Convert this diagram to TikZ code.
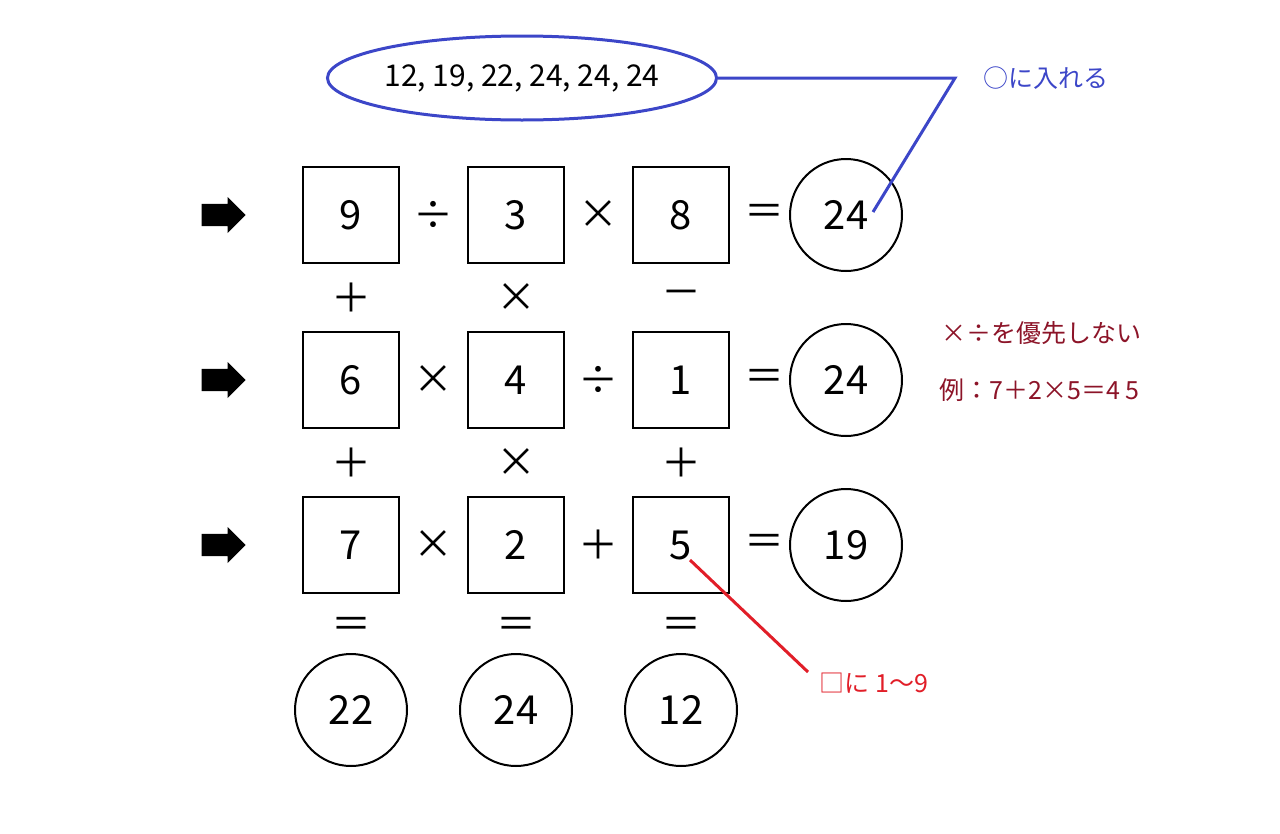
\documentclass[tikz,border=0pt]{standalone}
\usepackage{fontspec}
\setmainfont{Noto Sans CJK JP}
\usetikzlibrary{shapes.geometric,shapes.arrows}
\definecolor{lblue}{RGB}{60,70,200}
\definecolor{dred}{RGB}{140,20,40}
\definecolor{lred}{RGB}{225,30,40}
\begin{document}
\begin{tikzpicture}
    [x=1pt,y=-1pt,
     cell/.style={draw,line width=2pt,minimum size=96pt,inner sep=0pt,font=\fontsize{40}{40}\selectfont},
     res/.style={circle,draw,line width=2pt,minimum size=112pt,inner sep=0pt,font=\fontsize{40}{40}\selectfont},
     op/.style={inner sep=0pt,font=\fontsize{40}{40}\selectfont},
     note/.style={anchor=west,font=\fontsize{25}{25}\selectfont},
     pointer/.style={single arrow,fill=black,minimum width=36pt,minimum height=44pt,inner xsep=0pt,inner ysep=8pt,single arrow head extend=5pt}]

    \useasboundingbox (0,0) rectangle (1280,833);

    % row pointers:
    \node (a1) at (218,215) [pointer] {};
    \node (a2) at (218,380) [pointer] {};
    \node (a3) at (218,545) [pointer] {};

    % grid of cells:
    \node (c11) at (351,215) [cell] {9};
    \node (c12) at (516,215) [cell] {3};
    \node (c13) at (681,215) [cell] {8};
    \node (c21) at (351,380) [cell] {6};
    \node (c22) at (516,380) [cell] {4};
    \node (c23) at (681,380) [cell] {1};
    \node (c31) at (351,545) [cell] {7};
    \node (c32) at (516,545) [cell] {2};
    \node (c33) at (681,545) [cell] {5};

    % row operators:
    \node at (433,215) [op] {÷};
    \node at (598,215) [op] {×};
    \node at (764,215) [op] {＝};
    \node at (433,380) [op] {×};
    \node at (598,380) [op] {÷};
    \node at (764,380) [op] {＝};
    \node at (433,545) [op] {×};
    \node at (598,545) [op] {＋};
    \node at (764,545) [op] {＝};

    % column operators:
    \node at (351,298) [op] {＋};
    \node at (516,298) [op] {×};
    \node at (681,298) [op] {－};
    \node at (351,463) [op] {＋};
    \node at (516,463) [op] {×};
    \node at (681,463) [op] {＋};
    \node at (351,628) [op] {＝};
    \node at (516,628) [op] {＝};
    \node at (681,628) [op] {＝};

    % results:
    \node (r1) at (846,215) [res] {24};
    \node (r2) at (846,380) [res] {24};
    \node (r3) at (846,545) [res] {19};
    \node (b1) at (351,710) [res] {22};
    \node (b2) at (516,710) [res] {24};
    \node (b3) at (681,710) [res] {12};

    % answers and notes:
    \node (ans) at (522,78) [ellipse,draw=lblue,line width=3pt,inner sep=0pt,minimum width=374pt,minimum height=84pt,font=\fontsize{30}{30}\selectfont] {12, 19, 22, 24, 24, 24};
    \node (put) at (980,78) [note,text=lblue] {○に入れる};
    \coordinate (bend) at (955,78);
    \coordinate (tip) at (873,212);
    \draw [lblue,line width=3pt] (ans.east) -- (bend) -- (tip);

    \node (rule) at (938,333) [note,text=dred] {×÷を優先しない};
    \node (ex) at (936,390) [note,text=dred] {例：7＋2×5＝4 5};

    \node (fill) at (816,683) [note,text=lred] {□に 1〜9};
    \coordinate (five) at (690,560);
    \draw [lred,line width=3pt] (five) -- (808,672);
\end{tikzpicture}
\end{document}
